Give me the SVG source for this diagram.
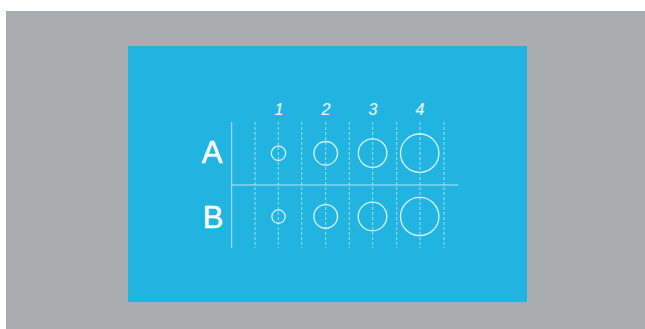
<svg xmlns="http://www.w3.org/2000/svg" width="645" height="329" viewBox="0 0 645 329">
<style>
.ln{stroke:#e6f6fc;stroke-width:1;fill:none;opacity:0.75}
.dash{stroke:#e6f6fc;stroke-width:1;fill:none;stroke-dasharray:3 2;opacity:0.65}
.c{stroke:#eef9fd;stroke-width:1.3;fill:none;opacity:0.9}
.num{font-family:"Liberation Sans",Arial,sans-serif;font-style:italic;font-size:16px;fill:#e8f7fc;stroke:#e8f7fc;stroke-width:0.15;text-anchor:middle}
.row{font-family:"Liberation Sans",Arial,sans-serif;font-size:31px;fill:#ffffff;stroke:#ffffff;stroke-width:0.5;text-anchor:middle}
</style>
<rect x="0" y="0" width="645" height="329" fill="#ffffff"/>
<rect x="6" y="11" width="639" height="318" fill="#a9adb0"/>
<rect x="128" y="46" width="399" height="256" fill="#22b4e0"/>
<g id="grid">
<line class="ln" x1="231.7" y1="122" x2="231.7" y2="248"/>
<line class="ln" x1="231.7" y1="185" x2="458" y2="185"/>
<line class="dash" x1="255" y1="122" x2="255" y2="248"/>
<line class="dash" x1="278.3" y1="122" x2="278.3" y2="248"/>
<line class="dash" x1="301.7" y1="122" x2="301.7" y2="248"/>
<line class="dash" x1="325.7" y1="122" x2="325.7" y2="248"/>
<line class="dash" x1="349.3" y1="122" x2="349.3" y2="248"/>
<line class="dash" x1="372.7" y1="122" x2="372.7" y2="248"/>
<line class="dash" x1="396.7" y1="122" x2="396.7" y2="248"/>
<line class="dash" x1="420" y1="122" x2="420" y2="248"/>
<line class="dash" x1="444" y1="122" x2="444" y2="248"/>
</g>
<g id="headers">
<text class="num" x="279" y="115">1</text>
<text class="num" x="326" y="115">2</text>
<text class="num" x="373" y="115">3</text>
<text class="num" x="420" y="115">4</text>
</g>
<g id="rowA">
<text class="row" x="212" y="163">A</text>
<circle class="c" cx="278.5" cy="153.3" r="7.2"/>
<circle class="c" cx="325.7" cy="153.3" r="11.8"/>
<circle class="c" cx="372.6" cy="153.1" r="14.3"/>
<circle class="c" cx="419.7" cy="153.2" r="19.2"/>
</g>
<g id="rowB">
<text class="row" x="213" y="228">B</text>
<circle class="c" cx="278.5" cy="216.6" r="6.7"/>
<circle class="c" cx="325.7" cy="216.4" r="11.8"/>
<circle class="c" cx="372.5" cy="216.5" r="14.3"/>
<circle class="c" cx="419.7" cy="216.5" r="19.2"/>
</g>
</svg>
